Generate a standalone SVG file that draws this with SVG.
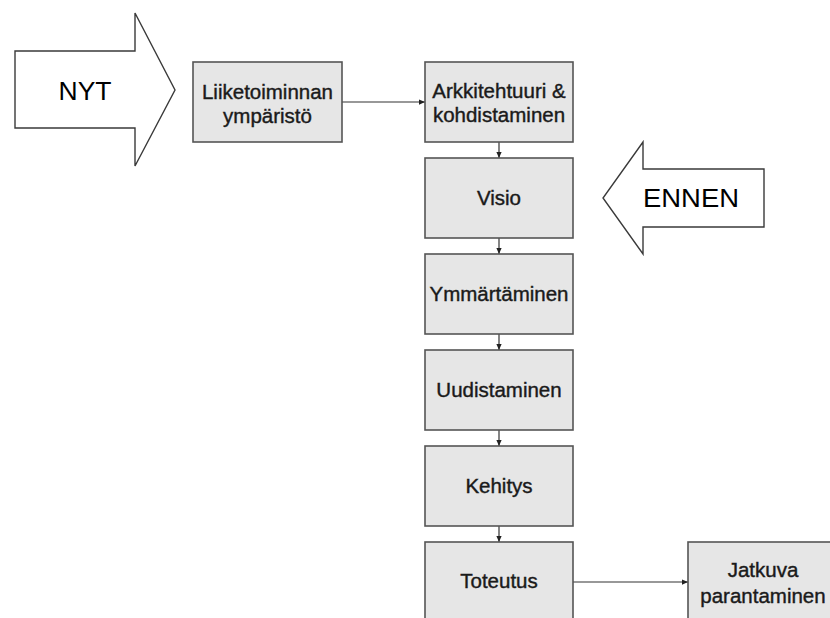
<svg xmlns="http://www.w3.org/2000/svg" width="830" height="618" viewBox="0 0 830 618">
  <style>
    .box { fill: #e6e6e6; stroke: #555555; stroke-width: 1.6; }
    .big { fill: #ffffff; stroke: #3a3a3a; stroke-width: 1.4; stroke-linejoin: miter; }
    .lbl { font-family: "Liberation Sans", Arial, sans-serif; font-size: 20.5px; fill: #1a1a1a; stroke: #1a1a1a; stroke-width: 0.4; text-anchor: middle; }
    .tag { font-family: "Liberation Sans", Arial, sans-serif; font-size: 25px; fill: #000000; text-anchor: middle; }
    .link { stroke: #333333; stroke-width: 1.2; fill: none; marker-end: url(#tip); }
  </style>
  <defs>
    <marker id="tip" viewBox="0 0 8 8" refX="8" refY="4" markerWidth="6" markerHeight="6" markerUnits="userSpaceOnUse" orient="auto">
      <path d="M0,0.5 L8,4 L0,7.5 Z" fill="#222222"/>
    </marker>
  </defs>
  <rect width="830" height="618" fill="#ffffff"/>

  <!-- block arrows -->
  <g id="nyt">
    <polygon class="big" points="15,51 135,51 135,13 175,90 135,166 135,128 15,128"/>
    <text class="tag" x="85" y="100" textLength="53" lengthAdjust="spacingAndGlyphs">NYT</text>
  </g>
  <g id="ennen">
    <polygon class="big" points="764,169 643,169 643,142 603,198 643,254 643,227 764,227"/>
    <text class="tag" x="691" y="207" textLength="96" lengthAdjust="spacingAndGlyphs">ENNEN</text>
  </g>

  <!-- connectors -->
  <g id="connectors">
    <line class="link" x1="342" y1="102" x2="425" y2="102"/>
    <line class="link" x1="499" y1="142" x2="499" y2="158"/>
    <line class="link" x1="499" y1="238" x2="499" y2="254"/>
    <line class="link" x1="499" y1="334" x2="499" y2="350"/>
    <line class="link" x1="499" y1="430" x2="499" y2="446"/>
    <line class="link" x1="499" y1="526" x2="499" y2="542"/>
    <line class="link" x1="573" y1="582" x2="688" y2="582"/>
  </g>

  <!-- process boxes -->
  <g id="liiketoiminta">
    <rect class="box" x="193" y="62" width="149" height="80"/>
    <text class="lbl" x="267.5" y="99">Liiketoiminnan</text>
    <text class="lbl" x="267.5" y="123">ympäristö</text>
  </g>
  <g id="arkkitehtuuri">
    <rect class="box" x="425" y="62" width="148" height="80"/>
    <text class="lbl" x="499" y="98">Arkkitehtuuri &amp;</text>
    <text class="lbl" x="499" y="122">kohdistaminen</text>
  </g>
  <g id="visio">
    <rect class="box" x="425" y="158" width="148" height="80"/>
    <text class="lbl" x="499" y="205">Visio</text>
  </g>
  <g id="ymmartaminen">
    <rect class="box" x="425" y="254" width="148" height="80"/>
    <text class="lbl" x="499" y="301">Ymmärtäminen</text>
  </g>
  <g id="uudistaminen">
    <rect class="box" x="425" y="350" width="148" height="80"/>
    <text class="lbl" x="499" y="397">Uudistaminen</text>
  </g>
  <g id="kehitys">
    <rect class="box" x="425" y="446" width="148" height="80"/>
    <text class="lbl" x="499" y="493">Kehitys</text>
  </g>
  <g id="toteutus">
    <rect class="box" x="425" y="542" width="148" height="80"/>
    <text class="lbl" x="499" y="588">Toteutus</text>
  </g>
  <g id="jatkuva">
    <rect class="box" x="688" y="542" width="150" height="80"/>
    <text class="lbl" x="763" y="577">Jatkuva</text>
    <text class="lbl" x="763" y="603">parantaminen</text>
  </g>
</svg>
